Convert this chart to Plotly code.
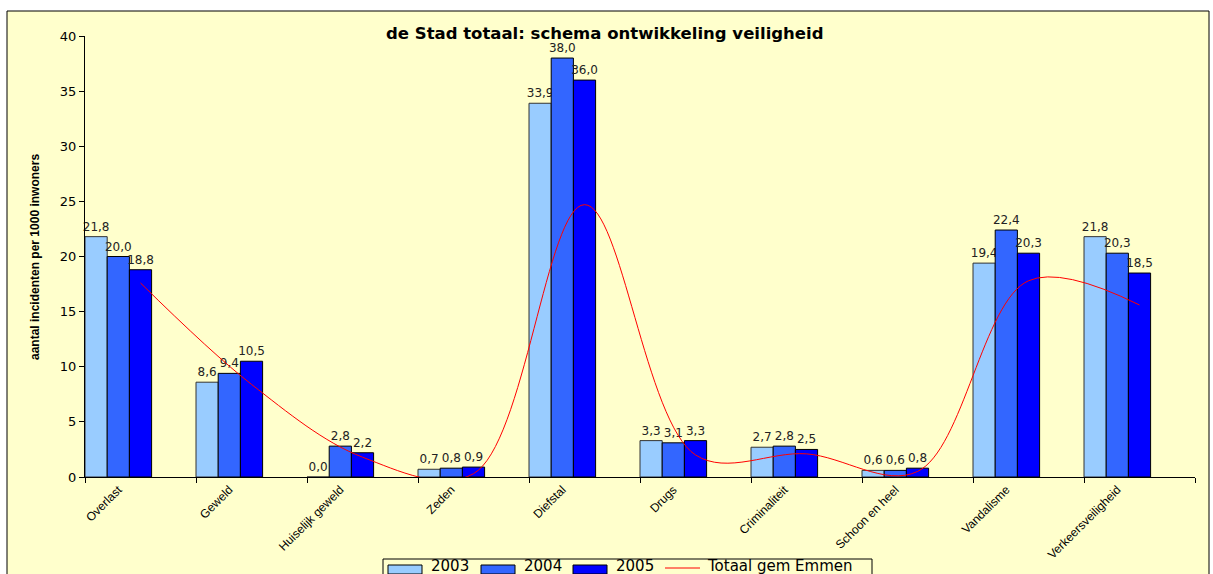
import numpy as np
import plotly.graph_objects as go

categories = ["Overlast", "Geweld", "Huiselijk geweld", "Zeden", "Diefstal",
              "Drugs", "Criminaliteit", "Schoon en heel", "Vandalisme", "Verkeersveiligheid"]
v2003 = [21.8, 8.6, 0.0, 0.7, 33.9, 3.3, 2.7, 0.6, 19.4, 21.8]
v2004 = [20.0, 9.4, 2.8, 0.8, 38.0, 3.1, 2.8, 0.6, 22.4, 20.3]
v2005 = [18.8, 10.5, 2.2, 0.9, 36.0, 3.3, 2.5, 0.8, 20.3, 18.5]
totaal_emmen = [17.6, 8.4, 1.8, 0.3, 24.7, 2.0, 2.1, 0.5, 17.8, 15.6]
y_ticks = [0, 5, 10, 15, 20, 25, 30, 35, 40]
legend_names = ["2003", "2004", "2005", "Totaal gem Emmen"]

W, H = 1213, 574
L, R, T, B = 85, 18, 36, 97
PW, PH = W - L - R, H - T - B

def px(x):
    return (x - L) / PW

def py(y):
    return (H - B - y) / PH

idx = np.arange(len(categories))
bw = 0.2
colors = ["#99CCFF", "#3366FF", "#0000FF"]
outlines = ["#333333", "#000000", "#000000"]
offsets = [0.1, 0.3, 0.5]
values = [v2003, v2004, v2005]

fig = go.Figure()
for name, vals, col, lc, off in zip(legend_names[:3], values, colors, outlines, offsets):
    fig.add_trace(go.Bar(
        x=idx + off, y=vals, width=bw, name=name,
        marker=dict(color=col, line=dict(color=lc, width=1)),
        texttemplate="%{y:.1f}", textposition="outside",
        constraintext="none", cliponaxis=False,
        textfont=dict(family="DejaVu Sans", size=12, color="#222222"),
    ))

fig.add_trace(go.Scatter(
    x=idx + 0.5, y=totaal_emmen, name=legend_names[3], mode="lines",
    line=dict(color="#FF0000", width=1, shape="spline", smoothing=1.0),
))

# frame of the chart area
shapes = [dict(type="rect", xref="paper", yref="paper",
               x0=px(7), x1=px(1209), y0=py(600), y1=py(11),
               fillcolor="#FFFFCC", line=dict(color="black", width=1), layer="below")]

# legend box (drawn by hand so that it can sit at the cut-off bottom edge)
shapes.append(dict(type="rect", xref="paper", yref="paper",
                   x0=px(383), x1=px(872), y0=py(592), y1=py(559),
                   fillcolor="#FFFFCC", line=dict(color="black", width=1), layer="above"))
sw_x = [388, 481, 573]
text_x = [429, 522, 614, 705]
for x0, col in zip(sw_x, colors):
    shapes.append(dict(type="rect", xref="paper", yref="paper",
                       x0=px(x0), x1=px(x0 + 34), y0=py(574), y1=py(565),
                       fillcolor=col, line=dict(color="black", width=1), layer="above"))
shapes.append(dict(type="line", xref="paper", yref="paper",
                   x0=px(665), x1=px(700), y0=py(568), y1=py(568),
                   line=dict(color="#FF0000", width=1), layer="above"))

annotations = [
    dict(text="<b>de Stad totaal: schema ontwikkeling veiligheid</b>",
         xref="paper", yref="paper", x=px(605), y=py(33.5), xanchor="center", yanchor="middle",
         showarrow=False, font=dict(family="DejaVu Sans", size=16.5, color="black")),
    dict(text="<b>aantal incidenten per 1000 inwoners</b>",
         xref="paper", yref="paper", x=px(35), y=py(257), xanchor="center", yanchor="middle",
         textangle=-90, showarrow=False, font=dict(family="Arial", size=12, color="black")),
]
for tx, name in zip(text_x, legend_names):
    annotations.append(dict(text=name, xref="paper", yref="paper", x=px(tx), y=py(565.5),
                            xanchor="left", yanchor="middle", showarrow=False,
                            font=dict(family="DejaVu Sans", size=15, color="black")))

fig.update_layout(
    width=W, height=H,
    margin=dict(l=L, r=R, t=T, b=B, pad=0, autoexpand=False),
    paper_bgcolor="white",
    plot_bgcolor="#FFFFCC",
    separators=",.",
    barmode="overlay",
    showlegend=False,
    xaxis=dict(range=[0, 10], tickmode="array", tickvals=list(idx + 0.3),
               ticktext=categories, tickangle=-45, ticks="", automargin=False,
               tickfont=dict(family="Arial", size=12, color="black"),
               showline=True, linecolor="black", linewidth=1,
               showgrid=False, zeroline=False,
               minor=dict(tickmode="array", tickvals=list(range(11)), ticks="outside",
                          ticklen=5, tickcolor="black", showgrid=False)),
    yaxis=dict(range=[0, 40], tickmode="array", tickvals=y_ticks, ticks="outside",
               ticklen=5, tickcolor="black", automargin=False,
               tickfont=dict(family="DejaVu Sans", size=13, color="black"),
               showline=True, linecolor="black", linewidth=1,
               showgrid=False, zeroline=False),
    shapes=shapes,
    annotations=annotations,
)

fig.write_html("out.html", config={"displayModeBar": False},
               post_script="document.body.style.margin='0';document.body.style.overflow='hidden';")
